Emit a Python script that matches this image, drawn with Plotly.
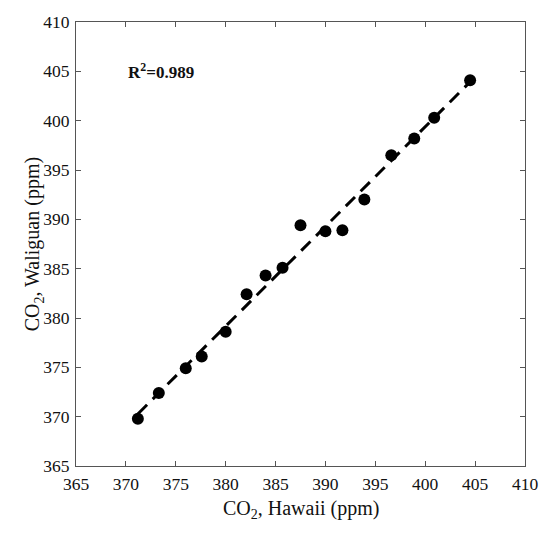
import numpy as np
import plotly.graph_objects as go

# Data
hawaii = [371.2, 373.3, 376.0, 377.6, 380.0, 382.1, 384.0, 385.7,
          387.5, 390.0, 391.7, 393.9, 396.6, 398.9, 400.9, 404.5]
waliguan = [369.8, 372.4, 374.9, 376.1, 378.6, 382.4, 384.3, 385.1,
            389.4, 388.8, 388.9, 392.0, 396.5, 398.2, 400.3, 404.1]
tick_vals = [365, 370, 375, 380, 385, 390, 395, 400, 405, 410]
r2_label = "<b>R<sup>2</sup>=0.989</b>"

# Linear regression line from the data
slope, intercept = np.polyfit(hawaii, waliguan, 1)
fit_x = [min(hawaii), max(hawaii)]
fit_y = [slope * v + intercept for v in fit_x]

FONT = "Liberation Serif"

fig = go.Figure()
fig.add_trace(go.Scatter(
    x=fit_x, y=fit_y, mode="lines",
    line=dict(color="black", width=3, dash="13px,8px"),
    showlegend=False, hoverinfo="skip"))
fig.add_trace(go.Scatter(
    x=hawaii, y=waliguan, mode="markers",
    marker=dict(color="black", size=12),
    showlegend=False))

axis_common = dict(
    range=[365, 410], tickmode="array", tickvals=tick_vals,
    ticks="inside", ticklen=5, tickcolor="#555", tickwidth=1,
    showline=True, linecolor="#555", linewidth=1, mirror="ticks",
    showgrid=False, zeroline=False,
    tickfont=dict(family=FONT, size=17.5, color="#111"),
)
fig.update_xaxes(**axis_common, ticklabelstandoff=2)
fig.update_yaxes(**axis_common, ticklabelstandoff=2)

fig.add_annotation(
    x=370, y=405, xref="x", yref="y", text=r2_label, showarrow=False,
    xanchor="left", yanchor="middle",
    font=dict(family=FONT, size=17, color="#111"))
fig.add_annotation(
    x=0.5, y=-0.098, xref="paper", yref="paper",
    text="CO<sub>2</sub>, Hawaii (ppm)", showarrow=False,
    xanchor="center", yanchor="middle",
    font=dict(family=FONT, size=20, color="#111"))
fig.add_annotation(
    x=-0.095, y=0.5, xref="paper", yref="paper",
    text="CO<sub>2</sub>, Waliguan (ppm)", showarrow=False, textangle=-90,
    xanchor="center", yanchor="middle",
    font=dict(family=FONT, size=20, color="#111"))

fig.update_layout(
    width=550, height=534,
    margin=dict(l=76, r=23, t=16, b=68),
    plot_bgcolor="white", paper_bgcolor="white",
)

# Remove the default page margin so the figure fills the window exactly.
fig.write_html(
    "out.html",
    config={"displayModeBar": False},
    post_script="document.body.style.margin='0';"
                "document.body.style.overflow='hidden';",
)
